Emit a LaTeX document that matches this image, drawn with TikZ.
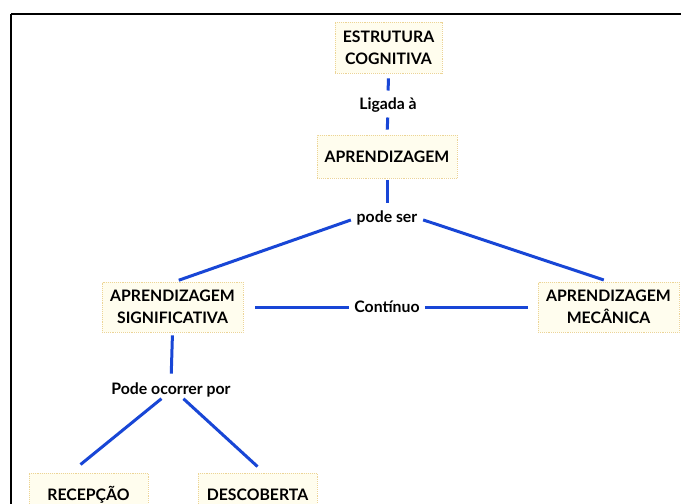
\documentclass[tikz,border=0pt]{standalone}
\usepackage{fontspec}
\setmainfont{Lato}
\definecolor{linkblue}{RGB}{24,70,214}
\definecolor{boxfill}{RGB}{255,253,238}
\definecolor{boxedge}{RGB}{236,212,150}
\tikzset{
  concept/.style={rectangle, fill=boxfill, draw=boxedge, densely dotted, line width=0.9pt,
    align=center, inner sep=0pt, font=\fontsize{15.8}{22}\selectfont\bfseries},
  linklabel/.style={inner sep=0pt, font=\fontsize{15.8}{18}\selectfont\bfseries},
  conn/.style={draw=linkblue, line width=3pt}
}
\begin{document}
\begin{tikzpicture}[x=1pt,y=-1pt]
\useasboundingbox (0,0) rectangle (681,504);
\clip (0,0) rectangle (681,504);
\fill[white] (0,0) rectangle (681,504);
% outer frame (clipped at right and bottom)
\draw[line width=2pt, black] (11,14) -- (720,14);
\draw[line width=2pt, black] (11,14) -- (11,540);

% concepts
\node[concept, minimum width=107pt, minimum height=51pt] (es) at (388.5,47.5) {ESTRUTURA\\COGNITIVA};
\node[concept, minimum width=140pt, minimum height=43pt] (apr) at (387,156.5) {APRENDIZAGEM};
\node[concept, minimum width=141pt, minimum height=50pt] (sig) at (172.5,307) {APRENDIZAGEM\\SIGNIFICATIVA};
\node[concept, minimum width=141pt, minimum height=50pt] (mec) at (608.5,307) {APRENDIZAGEM\\MECÂNICA};
\node[concept, minimum width=119pt, minimum height=44pt] (rec) at (88.5,495) {RECEPÇÃO};
\node[concept, minimum width=119pt, minimum height=44pt] (desc) at (257.5,495) {DESCOBERTA};

% linking phrases
\node[linklabel] (lig) at (388,105) {Ligada à};
\node[linklabel] (ps) at (387,218) {pode ser};
\node[linklabel] (cont) at (387,307) {Contínuo};
\node[linklabel] (por) at (171,390) {Pode ocorrer por};

% connectors
\draw[conn, shorten <=5pt, shorten >=7pt] (es.south) -- (lig.north);
\draw[conn, shorten <=5pt, shorten >=5pt] (lig.south) -- (apr.north);
\draw[conn, shorten <=2pt, shorten >=8pt] (apr.south) -- (ps.north);
\draw[conn, shorten <=6pt, shorten >=4pt] (ps.west) -- ([xshift=2.5pt]sig.north);
\draw[conn, shorten <=6pt, shorten >=5pt] (ps.east) -- (mec.north);
\draw[conn, shorten <=12pt, shorten >=5pt] (sig.east) -- (cont.west);
\draw[conn, shorten <=5pt, shorten >=10pt] (cont.east) -- (mec.west);
\draw[conn, shorten <=3pt, shorten >=9pt] (sig.south) -- (por.north);
\draw[conn, shorten <=2pt] ([xshift=-8pt]por.south) -- ([xshift=-8pt,yshift=8pt]rec.north);
\draw[conn, shorten <=2pt] ([xshift=11pt]por.south) -- ([yshift=6pt]desc.north);
\end{tikzpicture}
\end{document}
